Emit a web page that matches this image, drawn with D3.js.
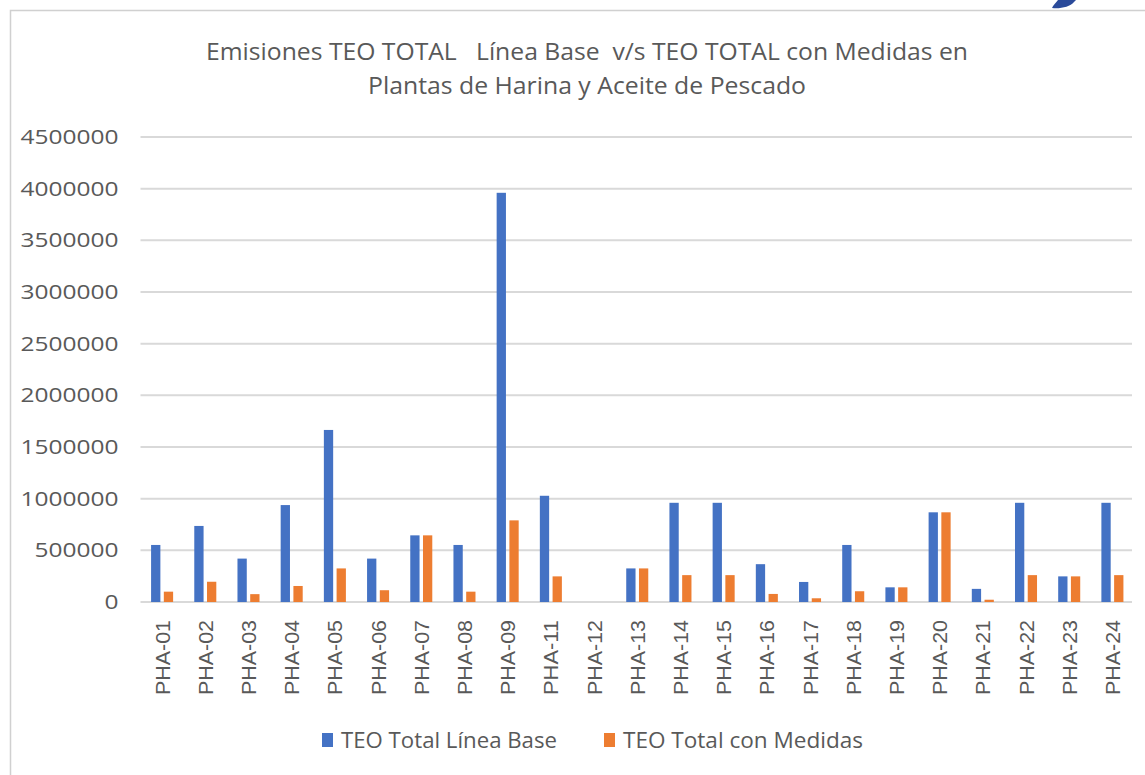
<!DOCTYPE html>
<html>
<head>
<meta charset="utf-8">
<script src="https://cdn.jsdelivr.net/npm/d3@7"></script>
<style>
  body { margin: 0; background: #fff; }
  text { fill: #595959; white-space: pre; }
</style>
</head>
<body>
<script>
// datos
var plantas = ["PHA-01", "PHA-02", "PHA-03", "PHA-04", "PHA-05", "PHA-06", "PHA-07", "PHA-08",
  "PHA-09", "PHA-11", "PHA-12", "PHA-13", "PHA-14", "PHA-15", "PHA-16", "PHA-17", "PHA-18",
  "PHA-19", "PHA-20", "PHA-21", "PHA-22", "PHA-23", "PHA-24"]
var lineaBase = [552000, 736000, 420000, 938000, 1665000, 420000, 645000, 552000,
  3960000, 1028000, 0, 325000, 960000, 960000, 366000, 194000, 552000,
  142000, 868000, 127000, 960000, 248000, 960000]
var conMedidas = [100000, 196000, 76000, 155000, 325000, 114000, 645000, 100000,
  790000, 248000, 0, 325000, 260000, 260000, 78000, 36000, 104000,
  142000, 868000, 22000, 260000, 248000, 260000]
var yTicks = [0, 500000, 1000000, 1500000, 2000000, 2500000, 3000000, 3500000, 4000000, 4500000]
var series = ["TEO Total Línea Base", "TEO Total con Medidas"]
var colores = ["#4472C4", "#ED7D31"]

var width = 1145, height = 775
var plot = {left: 140.5, right: 1134, top: 137, bottom: 602}

window.onload = function() {
  var svg = d3.select("body").append("svg")
      .attr("width", width)
      .attr("height", height)

  // marco
  svg.append("rect")
      .attr("x", 10.5).attr("y", 10.5)
      .attr("width", width).attr("height", height)
      .attr("fill", "none")
      .attr("stroke", "#d0d0d0")
      .attr("stroke-width", 1.5)

  // mancha azul arriba a la derecha
  svg.append("path")
      .attr("d", "M1052,8 C1060,9 1070,7 1074,2 L1076,0 L1058,0 C1056,3 1053,5 1052,8 Z")
      .attr("fill", "#2a4a9a")

  var title = svg.append("text")
      .attr("text-anchor", "middle")
      .style("font-family", "'Liberation Sans Narrow', 'Open Sans', sans-serif")
      .style("font-size", "23px")
  title.append("tspan").attr("x", 587).attr("y", 60)
      .attr("textLength", 762).attr("lengthAdjust", "spacingAndGlyphs")
      .text("Emisiones TEO TOTAL   Línea Base  v/s TEO TOTAL con Medidas en")
  title.append("tspan").attr("x", 587).attr("y", 94)
      .attr("textLength", 438).attr("lengthAdjust", "spacingAndGlyphs")
      .text("Plantas de Harina y Aceite de Pescado")

  var x0 = d3.scaleBand()
      .domain(plantas)
      .range([plot.left, plot.right])
      .paddingInner(0.49)
      .paddingOuter(0.245)

  var x1 = d3.scaleBand()
      .domain([0, 1])
      .range([0, x0.bandwidth()])
      .paddingInner(0.27)

  var y = d3.scaleLinear()
      .domain([0, 4500000])
      .range([plot.bottom, plot.top])

  // lineas de cuadricula
  svg.append("g").selectAll("line")
      .data(yTicks)
      .enter().append("line")
      .attr("x1", plot.left).attr("x2", plot.right - 2)
      .attr("y1", function(d) { return y(d) })
      .attr("y2", function(d) { return y(d) })
      .attr("stroke", "#d9d9d9")
      .attr("stroke-width", 2)

  var yAxis = d3.axisLeft(y)
      .tickValues(yTicks)
      .tickFormat(d3.format("d"))
      .tickSize(0)
      .tickPadding(22)

  var gy = svg.append("g")
      .attr("transform", "translate(" + plot.left + ",0)")
      .call(yAxis)
  gy.select(".domain").remove()
  gy.selectAll("text")
      .attr("fill", "#595959")
      .style("font-family", "'Open Sans', sans-serif")
      .style("font-size", "20px")
      .attr("textLength", function(d) { return String(d).length * 14 })
      .attr("lengthAdjust", "spacingAndGlyphs")

  // barras
  var grupos = svg.append("g").selectAll("g")
      .data(plantas)
      .enter().append("g")
      .attr("transform", function(d) { return "translate(" + x0(d) + ",0)" })

  grupos.selectAll("rect")
      .data(function(d, i) { return [lineaBase[i], conMedidas[i]] })
      .enter().append("rect")
      .attr("x", function(d, j) { return x1(j) })
      .attr("y", function(d) { return y(d) })
      .attr("width", x1.bandwidth())
      .attr("height", function(d) { return plot.bottom - y(d) })
      .attr("fill", function(d, j) { return colores[j] })

  // etiquetas eje x
  var xAxis = d3.axisBottom(x0).tickSize(0).tickPadding(0)
  var gx = svg.append("g")
      .attr("transform", "translate(0," + plot.bottom + ")")
      .call(xAxis)
  gx.select(".domain").remove()
  gx.selectAll("text")
      .attr("fill", "#595959")
      .attr("transform", "rotate(-90)")
      .attr("x", -18)
      .attr("y", 0)
      .attr("dy", "0.36em")
      .style("text-anchor", "end")
      .style("font-family", "'Liberation Sans', Arial, sans-serif")
      .style("font-size", "21px")
      .attr("textLength", 75)
      .attr("lengthAdjust", "spacingAndGlyphs")

  // leyenda
  var leyX = [322, 604]
  var leyW = [216, 240]
  var ley = svg.append("g").selectAll("g")
      .data(series)
      .enter().append("g")
      .attr("transform", function(d, i) { return "translate(" + leyX[i] + ",733)" })
  ley.append("rect")
      .attr("width", 11).attr("height", 14)
      .attr("fill", function(d, i) { return colores[i] })
  ley.append("text")
      .attr("x", 19).attr("y", 15)
      .style("font-family", "'Liberation Sans Narrow', 'Open Sans', sans-serif")
      .style("font-size", "21px")
      .attr("textLength", function(d, i) { return leyW[i] })
      .attr("lengthAdjust", "spacingAndGlyphs")
      .text(function(d) { return d })
}
</script>
</body>
</html>
